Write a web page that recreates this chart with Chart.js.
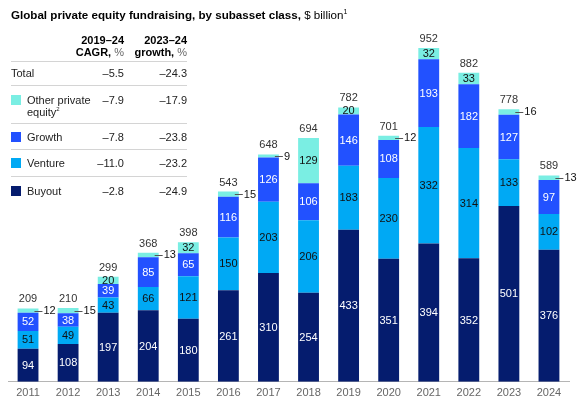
<!DOCTYPE html>
<html>
<head>
<meta charset="utf-8">
<script src="https://cdn.jsdelivr.net/npm/chart.js@4"></script>
<style>
  html, body { margin: 0; padding: 0; background: #fff; }
  #wrap { position: relative; width: 582px; height: 407px; font-family: "Liberation Sans", Arial, sans-serif; color: #222; }
  #wrap canvas { position: absolute; left: 0; top: 0; }
  .title { position: absolute; left: 11px; top: 8px; font-size: 11.6px; font-weight: bold; color: #000; white-space: nowrap; }
  .title span { font-weight: normal; }
  .hdr { position: absolute; font-size: 11px; line-height: 12px; text-align: right; font-weight: bold; color: #000; }
  .hdr span { font-weight: normal; color: #666; }
  .rule { position: absolute; left: 11px; width: 176px; height: 1px; background: #d4d4d4; }
  .sw { position: absolute; left: 11px; width: 10px; height: 10px; }
  .num { position: absolute; text-align: right; font-size: 11px; line-height: 12px; color: #222; }
  .lbl { position: absolute; left: 27px; font-size: 11px; line-height: 12px; color: #222; }
</style>
</head>
<body>
<div id="wrap">
  <canvas id="c" width="582" height="407"></canvas>
  <div class="title">Global private equity fundraising, by subasset class, <span>$ billion<sup style="font-size:7px">1</sup></span></div>
  <div id="table"></div>
</div>
<script>
const years = ["2011","2012","2013","2014","2015","2016","2017","2018","2019","2020","2021","2022","2023","2024"];
const buyout = [94,108,197,204,180,261,310,254,433,351,394,352,501,376];
const venture = [51,49,43,66,121,150,203,206,183,230,332,314,133,102];
const growth = [52,38,39,85,65,116,126,106,146,108,193,182,127,97];
const other = [12,15,20,13,32,15,9,129,20,12,32,33,16,13];
const totals = [209,210,299,368,398,543,648,694,782,701,952,882,778,589];

const tableRows = ["Total","Other private equity","Growth","Venture","Buyout"];
const cagr = ["–5.5","–7.9","–7.8","–11.0","–2.8"];
const growth2324 = ["–24.3","–17.9","–23.8","–23.2","–24.9"];

const colors = { other: "#7aeee3", growth: "#2251ff", venture: "#00a9f4", buyout: "#051c6e" };

(function(){
  const t = document.getElementById('table');
  let h = '';
  h += '<div class="hdr" style="left:60px;width:64px;top:34px">2019–24<br>CAGR, <span>%</span></div>';
  h += '<div class="hdr" style="left:127px;width:60px;top:34px">2023–24<br>growth, <span>%</span></div>';
  h += '<div class="rule" style="top:61px"></div>';
  const rowY = [67, 94, 131, 157, 185];
  const ruleY = [85, 123, 149, 176];
  const sw = [null, colors.other, colors.growth, colors.venture, colors.buyout];
  tableRows.forEach((r, i) => {
    const y = rowY[i];
    if (i === 0) {
      h += '<div class="lbl" style="left:11px;top:' + y + 'px">' + r + '</div>';
    } else if (i === 1) {
      h += '<div class="sw" style="top:' + (y+1) + 'px;background:' + sw[i] + '"></div>';
      h += '<div class="lbl" style="top:' + y + 'px">Other private<br>equity<sup style="font-size:6px;line-height:0">2</sup></div>';
    } else {
      h += '<div class="sw" style="top:' + (y+1) + 'px;background:' + sw[i] + '"></div>';
      h += '<div class="lbl" style="top:' + y + 'px">' + r + '</div>';
    }
    h += '<div class="num" style="left:64px;width:60px;top:' + y + 'px">' + cagr[i] + '</div>';
    h += '<div class="num" style="left:127px;width:60px;top:' + y + 'px">' + growth2324[i] + '</div>';
  });
  ruleY.forEach(y => { h += '<div class="rule" style="top:' + y + 'px"></div>'; });
  t.innerHTML = h;
})();

const FONT = '"Liberation Sans", Arial, sans-serif';

const labelPlugin = {
  id: 'segLabels',
  afterDatasetsDraw(chart) {
    const ctx = chart.ctx;
    ctx.save();
    ctx.font = '11px ' + FONT;
    ctx.textBaseline = 'middle';
    chart.data.datasets.forEach((ds, di) => {
      const meta = chart.getDatasetMeta(di);
      meta.data.forEach((bar, i) => {
        const v = ds.data[i];
        const p = bar.getProps(['x','y','base','width'], true);
        const cy = (p.y + p.base) / 2;
        const segH = Math.abs(p.base - p.y);
        if (di === 3 && segH < 6.5) {
          const right = p.x + p.width / 2;
          ctx.strokeStyle = '#555';
          ctx.lineWidth = 1;
          ctx.beginPath();
          ctx.moveTo(right - 4, Math.round(cy) + 0.5);
          ctx.lineTo(right + 4, Math.round(cy) + 0.5);
          ctx.stroke();
          ctx.fillStyle = '#111';
          ctx.textAlign = 'left';
          ctx.fillText(String(v), right + 5, cy + 0.5);
        } else {
          ctx.fillStyle = ds.labelColor;
          ctx.textAlign = 'center';
          ctx.fillText(String(v), p.x, cy + 0.5);
        }
      });
    });
    const topMeta = chart.getDatasetMeta(3);
    ctx.fillStyle = '#333';
    ctx.textAlign = 'center';
    topMeta.data.forEach((bar, i) => {
      ctx.fillText(String(totals[i]), bar.x, bar.y - 9);
    });
    ctx.restore();
  }
};

new Chart(document.getElementById('c'), {
  type: 'bar',
  data: {
    labels: years,
    datasets: [
      { label: 'Buyout', data: buyout, backgroundColor: colors.buyout, labelColor: '#fff' },
      { label: 'Venture', data: venture, backgroundColor: colors.venture, labelColor: '#111' },
      { label: 'Growth', data: growth, backgroundColor: colors.growth, labelColor: '#fff' },
      { label: 'Other private equity', data: other, backgroundColor: colors.other, labelColor: '#111' }
    ]
  },
  options: {
    responsive: false,
    animation: false,
    layout: { padding: { left: 8, right: 13, top: 40, bottom: 2 } },
    datasets: { bar: { categoryPercentage: 1, barPercentage: 0.52, borderWidth: 0 } },
    plugins: { legend: { display: false }, tooltip: { enabled: false } },
    scales: {
      x: {
        stacked: true,
        grid: { display: false, drawTicks: false, tickLength: 0 },
        border: { display: true, color: '#b5b5b5', width: 1 },
        ticks: { color: '#666', font: { family: FONT, size: 11 }, padding: 5, maxRotation: 0 }
      },
      y: {
        stacked: true,
        display: false,
        min: 0,
        max: 974
      }
    }
  },
  plugins: [labelPlugin]
});
</script>
</body>
</html>
